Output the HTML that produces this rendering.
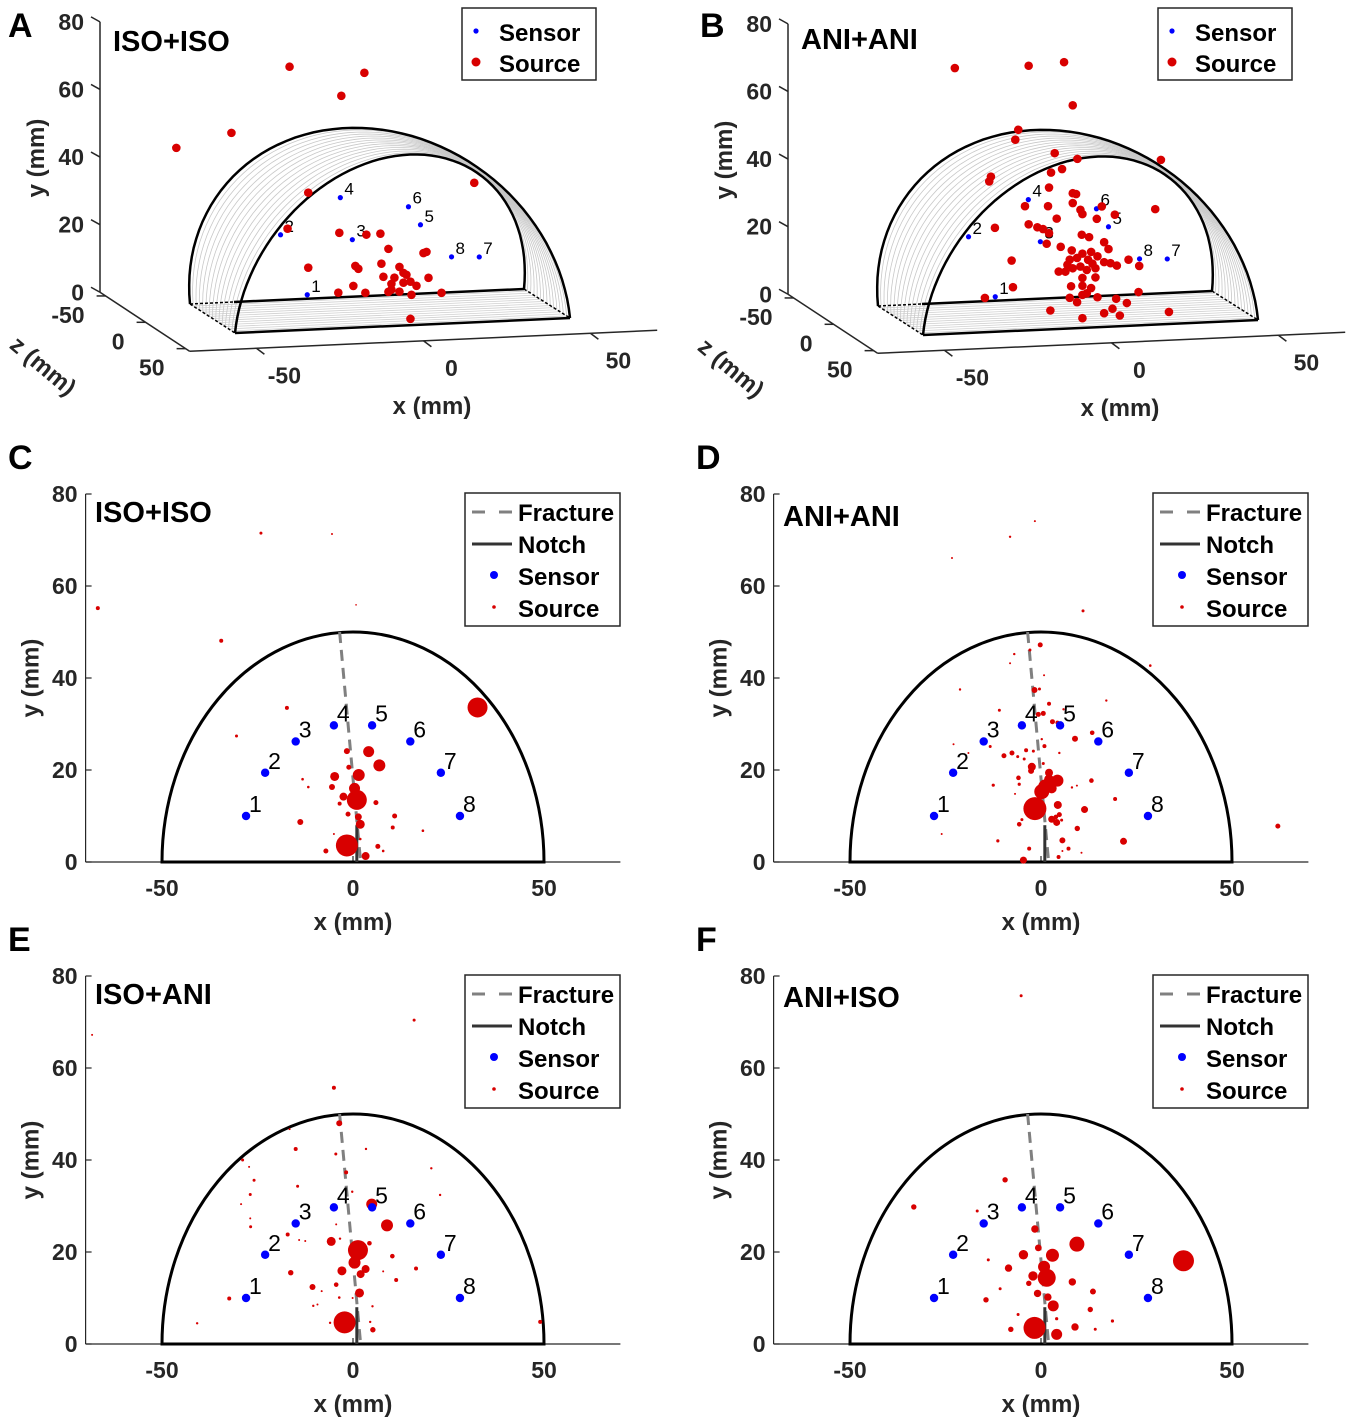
<!DOCTYPE html>
<html><head><meta charset="utf-8">
<style>
html,body{margin:0;padding:0;background:#fff;}
svg{display:block;font-family:"Liberation Sans",Arial,sans-serif;}
</style></head>
<body>
<svg id="chart" width="1350" height="1422" viewBox="0 0 1350 1422" xmlns="http://www.w3.org/2000/svg"></svg>
<script>
// ---------- DATA ----------
const aSrcX=[-26.9,-4.5,-11.4,-44.3,-60.8,28.4,-21.3,-27.5,-12,-3.9,0.3,2.7,14.1,13.2,-21.3,-7.2,-6.3,0.6,6,7.2,8.1,1.2,4.5,14.7,9.3,7.2,3.6,11.1,-7.8,3.6,2.7,6,-12.3,-4.2,9.6,18.6,9.3];
const aSrcY=[73.7,70.9,64.4,54.9,51.2,36.9,36.2,25.8,23.9,23.0,23.1,18.5,17.1,16.8,14.0,13.9,13.0,14.2,13.0,11.2,10.6,10.3,9.9,9.4,8.5,8.3,8.1,7.2,8.0,6.4,5.8,5.7,6.2,5.8,4.6,4.8,-2.5];
const bSrcX=[-33.7,-11.6,-1.0,1.6,-14.7,-15.6,-3.8,-22.9,-23.4,28,3,-4.9,-1.6,-5.5,1.6,2.6,-12.7,-5.8,1.6,3.9,4.5,10.3,14.2,8.8,-3.2,26.3,-21.7,-11.6,-9,-7.3,-5.5,-6.2,4.3,6.5,-2,1.3,11,12.3,4.5,7.1,9.0,0.7,2.9,6.2,7.5,11,12.9,14.8,18.3,21.5,-16.7,-2.6,-0.6,1.6,3.9,5.8,8.4,0,4.5,8.4,1.1,4.5,7.1,5.8,4.5,-16.3,21.3,-24.7,0.7,2.9,9,14.6,17.8,-5.1,11,13.5,15.7,4.5,30.4];
const bSrcY=[74.2,73.9,74.5,61.6,55.1,52.2,47.7,41.6,40.2,44.3,45.7,42.0,42.9,37.6,35.6,35.3,32.4,32.1,32.7,30.6,29.3,31.3,28.7,27.7,28.3,29.8,26.4,27.0,26.0,25.4,24.1,21.0,23.2,22.4,19.9,18.7,20.7,18.6,17.6,18.0,16.6,16.0,16.4,15.7,14.5,14.8,14.4,13.6,15.2,13.2,16.5,12.6,12.5,13.4,13.8,12.7,13.1,14.5,10.4,10.4,8.1,8.1,7.3,5.8,5.4,8.6,5.5,5.8,4.7,3.3,4.5,3.8,2.4,1.2,-0.3,0.9,-1.2,-1.5,-0.8];
const s3X=[-21.6,-29.6,-8.1,-11.7,12.3,8.7,29.9,21.6];
const s3Y=[6.0,24.1,21.7,34.3,25.2,30.7,14.9,15.3];
const sensorLabels=['1','2','3','4','5','6','7','8'];
const xTicks3=[-50,0,50], yTicks3=[0,20,40,60,80], zTicks3=[-50,0,50];
const sensorX=[-28,-23,-15,-5,5,15,23,28];
const sensorY=[10,19.4,26.2,29.7,29.7,26.2,19.4,10];
const xTicks=[-50,0,50], yTicks=[0,20,40,60,80];
const cSrcX=[-34.5,-17.3,-30.5,32.6,-1.6,4.1,6.9,-1.1,-4.8,1.5,-13.2,-11.7,-5.5,0.4,-2.5,1.0,-3.5,6,-1.3,1.4,1.9,10.9,10.4,-13.8,18.3,-5,1.9,-1.6,-7.1,6.5,7.9,3.3,-66.8,-24.1,-5.5,0.8];
const cSrcY=[48.1,33.5,27.4,33.6,24.1,24,21,20.6,18.6,18.9,18,16.3,16.3,16,14.2,13.5,12.7,12.9,10.4,9.8,8.2,10,7.5,8.7,6.8,6.1,5.0,3.6,2.4,3.4,2.4,1.3,55.2,71.5,71.3,55.9];
const cSrcMag=[2,2,1.5,10,3,5.5,6,2.5,4.5,6,1.3,1.3,3,5.5,4,10,2,2.5,2.5,3.5,4.5,2.5,2,3,1.3,1,1.3,11,2.5,2.5,1.3,4,2,1.5,1,0.8];
const dSrcX=[-0.2,-2.9,-7,-8.1,0.8,28.6,-21.2,-1.7,-0.4,17.1,2.1,-10.9,5.9,-0.7,0.6,3,4.3,13.4,8.9,0.2,0.9,-22.9,-13.3,-3.9,-7.6,-2,-6.1,-4.4,4.8,-9.7,-19,0.6,-2.4,-2.6,2.1,4.3,2.1,1.1,0.2,2.8,-1.6,-5.9,-5.7,-12.5,-6.8,8.1,9.4,13.2,19.4,4.4,11.4,4.8,3.9,2.8,4.1,5.4,-5,-5.7,9.5,-26,5.6,21.6,-11.3,-3.1,7.2,5.6,10.6,4.6,-4.6,-23.3,-8.1,-1.6,11,62];
const dSrcY=[47.2,46.1,45.2,43.2,40.6,42.7,37.5,37.4,37.6,35.1,34.4,33,33.2,32.1,32.3,30.5,30.3,28.1,26.8,26.7,25.2,25.6,25.1,24.3,23.7,24.1,22.9,22.4,23.7,23.1,23.7,21.4,20.7,19.8,19.4,17.7,17.9,16.4,15.3,16,11.6,18.3,16.9,16.7,14.8,16.2,16.6,17.7,13.7,12.4,11.4,10.3,9.8,9.3,8.6,9.1,9.2,8.2,7.3,6.1,4.7,4.5,4.6,2.9,2.9,2.4,2,1.1,0.4,66.1,70.7,74.1,54.6,7.8];
const dSrcMag=[2.5,1.5,1.2,1,1,1.3,1.2,3,1.5,1.2,2,1.5,1.2,2.5,2.5,2.5,2,2.3,3,1.2,2,1,1.5,2,2.5,1.5,1.5,1.5,1.2,2.5,1,1.5,4,3,4,6,5,7,7.5,5,11.5,2.3,1.6,1.6,1,1.2,1,2.3,2,4,3.5,2.5,2.3,3.5,3.5,1.5,1.5,2.3,2.7,1,3,3.5,1.6,2,2,1,1,2,3.5,1,1.2,1,1.5,2.5];
const eSrcX=[-3.6,-16.6,-15,-4.5,3.4,-28.9,-27.2,-1.8,-25.9,20.5,-14.5,-26.9,-29.3,-0.2,22.8,4.9,-26.9,-26.8,-4.4,8.9,-17.1,-14.1,-12.5,-5.7,-3.4,4.3,1.3,10.3,0.4,3.3,2,-2.9,7.9,16.5,-16.3,11.3,-10.6,-4.4,-8.2,1.7,-32.4,-3.6,-0.1,5.1,-10.4,-9.3,-2.2,-6,4.5,5.2,-68.3,16,-5,49,-40.8];
const eSrcY=[48,46.7,42.4,41.3,42.4,40,38.5,37.3,35.6,38.2,34.3,32.5,30.4,33.1,32.4,30.4,27.3,25.5,26,25.8,23.8,22.6,22.4,22.3,22.9,21.9,20.4,19.1,17.7,16.3,15.2,15.9,15.8,16.4,15.5,13.9,12.4,12.9,11.5,11.1,9.9,10.1,10,8.2,8.3,8.6,4.7,4.6,4.8,3.1,67.2,70.4,55.7,4.8,4.5];
const eSrcMag=[3,1,2,1.5,1.2,1.5,1,2,1.5,1.2,1.5,1.5,1,1.2,1.2,5.5,1,1.5,1,6,2,1,1,4.5,1.2,2.3,10,2.3,6,4,4,4.5,1,2,2.7,2,3,2.3,1,4.5,2,1.3,1,1.2,1.2,1,11,1.2,1.2,2.7,1,1.5,2,2,1.2];
const fSrcX=[-9.4,-33.3,-16.7,-1.6,9.4,-0.7,-4.6,3,-13.8,37.3,-8.5,0.8,-2.1,1.5,-3.2,8.2,-10.7,13.6,-0.9,1.8,-14.4,3.2,12.9,-6,4.1,18.7,8.9,-1.7,-7.9,14.2,4.1,-5.2];
const fSrcY=[35.7,29.8,28.9,25,21.7,20.9,19.4,19.3,18.3,18.1,16.5,16.8,14.8,14.4,13.2,13.5,12,11.4,11,10.2,9.6,8.3,7.5,6.4,5.5,5,3.7,3.5,3.2,3.2,2.1,75.7];
const fSrcMag=[2.7,2.7,1.5,3.7,7.5,3.4,4.7,6.5,1.5,10.5,3.7,6,4.7,9,2.7,3.7,1.5,3,3.7,3.7,2.7,5.5,2.7,1.5,1.6,1.6,3.7,11,2.7,1.5,5.5,1.5];

// ---------- DRAWING ----------
const NS='http://www.w3.org/2000/svg';
const svg=document.getElementById('chart');
const INK='#262626', RED='#d80000', BLUE='#0000ff';
function mk(tag,attrs,parent){const e=document.createElementNS(NS,tag);for(const k in attrs)e.setAttribute(k,attrs[k]);(parent||svg).appendChild(e);return e;}
function txt(str,attrs,parent){const t=mk('text',attrs,parent);t.textContent=str;return t;}

function legendBox(g,lx,ly,w,h){
  const r=mk('rect',{x:lx,y:ly,width:w,height:h,fill:'#fff',stroke:INK,'stroke-width':1.5},g);
  
  
}

function panel2D(letter,title,ox,oy,titleDy,srcX,srcY,srcMag){
  const sx=x=>ox+x*3.82, sy=y=>oy-y*4.6;
  const g=mk('g',{});
  
  
  const yAx=mk('line',{x1:sx(-70),y1:sy(0),x2:sx(-70),y2:sy(80),stroke:INK,'stroke-width':1.2},g);
  
  
  const xAx=mk('line',{x1:sx(-70),y1:sy(0),x2:sx(70),y2:sy(0),stroke:INK,'stroke-width':1.2},g);
  
  
  yTicks.forEach(v=>{
    const t=mk('line',{x1:sx(-70),y1:sy(v),x2:sx(-70)+6,y2:sy(v),stroke:INK,'stroke-width':1.2},g);
    
    
    const l=txt(String(v),{x:sx(-70)-8,y:sy(v)+8,'text-anchor':'end','font-size':23,'font-weight':'bold',fill:INK},g);
    
    
  });
  xTicks.forEach(v=>{
    const t=mk('line',{x1:sx(v),y1:sy(0),x2:sx(v),y2:sy(0)-6,stroke:INK,'stroke-width':1.2},g);
    
    
    const l=txt(String(v),{x:sx(v),y:sy(0)+34,'text-anchor':'middle','font-size':23,'font-weight':'bold',fill:INK},g);
    
    
  });
  const xl=txt('x (mm)',{x:sx(0),y:sy(0)+68,'text-anchor':'middle','font-size':24,'font-weight':'bold',fill:INK},g);
  
  
  const yl=txt('y (mm)',{x:0,y:0,'text-anchor':'middle','font-size':24,'font-weight':'bold',fill:INK,transform:`translate(${sx(-70)-47},${sy(40)}) rotate(-90)`},g);
  
  
  const semi=mk('path',{d:`M${sx(-50)},${sy(0)} A${50*3.82},${50*4.6} 0 0 1 ${sx(50)},${sy(0)} Z`,fill:'none',stroke:'#000','stroke-width':3},g);
  
  
  const fr=mk('line',{x1:sx(-3.5),y1:sy(50),x2:sx(2),y2:sy(0),stroke:'#808080','stroke-width':3,'stroke-dasharray':'11 7'},g);
  
  
  const no=mk('line',{x1:sx(1),y1:sy(0),x2:sx(1),y2:sy(8),stroke:'#333','stroke-width':3},g);
  
  
  srcX.forEach((x,i)=>{
    const c=mk('circle',{cx:sx(x),cy:sy(srcY[i]),r:srcMag[i],fill:RED},g);
    
    
  });
  sensorX.forEach((x,i)=>{
    const c=mk('circle',{cx:sx(x),cy:sy(sensorY[i]),r:4.2,fill:BLUE},g);
    
    
    const l=txt(sensorLabels[i],{x:sx(x)+3,y:sy(sensorY[i])-4,'font-size':23,fill:'#000'},g);
    
    
  });
  const tt=txt(title,{x:ox-258,y:sy(80)+titleDy,'font-size':29,'font-weight':'bold',fill:'#000'},g);
  
  
  const lt=txt(letter,{x:ox-345,y:sy(80)-25,'font-size':34,'font-weight':'bold',fill:'#000'},g);
  
  
  const lx=ox+112, ly=sy(80)-1;
  legendBox(g,lx,ly,155,133);
  const l1=mk('line',{x1:lx+7,y1:ly+19,x2:lx+47,y2:ly+19,stroke:'#808080','stroke-width':3,'stroke-dasharray':'13 14'},g);
  
  
  const l2=mk('line',{x1:lx+7,y1:ly+51,x2:lx+47,y2:ly+51,stroke:'#333','stroke-width':3},g);
  
  
  const l3=mk('circle',{cx:lx+29,cy:ly+82,r:4,fill:BLUE},g);
  
  
  const l4=mk('circle',{cx:lx+29,cy:ly+114,r:1.8,fill:RED},g);
  
  
  ['Fracture','Notch','Sensor','Source'].forEach((s,i)=>{
    const t=txt(s,{x:lx+53,y:ly+28+i*32,'font-size':24,'font-weight':'bold',fill:'#000'},g);
    
    
  });
}

function panel3D(letter,title,dx,dy,titleX,titleY,legX,srcX,srcY){
  const P=(x,y,z)=>[379.4+dx+3.34*x+0.8*z, 311.8+dy-0.15*x-3.38*y+0.527*z];
  const g=mk('g',{});
  
  
  const ZMIN=-57, ZMAX=55, XMIN=-70, XMAX=70;
  function ln(a,b,attrs){return mk('line',Object.assign({x1:a[0],y1:a[1],x2:b[0],y2:b[1]},attrs),g);}
  const ya=ln(P(XMIN,0,ZMIN),P(XMIN,80,ZMIN),{stroke:INK,'stroke-width':1.5});
  
  
  const za=ln(P(XMIN,0,ZMIN),P(XMIN,0,ZMAX),{stroke:INK,'stroke-width':1.5});
  
  
  const xa=ln(P(XMIN,0,ZMAX),P(XMAX,0,ZMAX),{stroke:INK,'stroke-width':1.5});
  
  
  yTicks3.forEach(v=>{
    const p=P(XMIN,v,ZMIN);
    const t=ln(p,[p[0]-9,p[1]-5],{stroke:INK,'stroke-width':1.5});
    
    
    const l=txt(String(v),{x:p[0]-16,y:p[1]+8,'text-anchor':'end','font-size':23,'font-weight':'bold',fill:INK},g);
    
    
  });
  zTicks3.forEach(v=>{
    const p=P(XMIN,0,v);
    const t=ln(p,[p[0]-9,p[1]],{stroke:INK,'stroke-width':1.5});
    
    
    const l=txt(String(v),{x:p[0]-21,y:p[1]+27,'text-anchor':'end','font-size':23,'font-weight':'bold',fill:INK},g);
    
    
  });
  xTicks3.forEach(v=>{
    const p=P(v,0,ZMAX);
    const t=ln(p,[p[0]+8,p[1]+6],{stroke:INK,'stroke-width':1.5});
    
    
    const l=txt(String(v),{x:p[0]+28,y:p[1]+35,'text-anchor':'middle','font-size':23,'font-weight':'bold',fill:INK},g);
    
    
  });
  const xl=txt('x (mm)',{x:432+dx,y:414+dy,'text-anchor':'middle','font-size':24,'font-weight':'bold',fill:INK},g);
  
  
  const yl=txt('y (mm)',{x:0,y:0,'text-anchor':'middle','font-size':24,'font-weight':'bold',fill:INK,transform:`translate(${44+dx},${158+dy}) rotate(-90)`},g);
  
  
  const zl=txt('z (mm)',{x:0,y:0,'text-anchor':'middle','font-size':24,'font-weight':'bold',fill:INK,transform:`translate(${38+dx},${372+dy}) rotate(40)`},g);
  
  
  const lerp=(a,b,t)=>[a[0]+(b[0]-a[0])*t,a[1]+(b[1]-a[1])*t];
  const BL=[190+dx,304+dy],BR=[524+dx,289+dy],FL=[235+dx,333+dy],FR=[570+dx,318+dy];
  const TO=[362+dx,128+dy],TI=[395+dx,156+dy];
  function arch(L,R,T){const M=[(L[0]+R[0])/2,(L[1]+R[1])/2],H=[(R[0]-L[0])/2,(R[1]-L[1])/2],V=[T[0]-M[0],T[1]-M[1]];let d='';for(let k=0;k<=60;k++){const th=Math.PI*k/60;const px=M[0]-Math.cos(th)*H[0]+Math.sin(th)*V[0],py=M[1]-Math.cos(th)*H[1]+Math.sin(th)*V[1];d+=(k?'L':'M')+px.toFixed(1)+','+py.toFixed(1);}return d;}
  for(let k=1;k<14;k++){
    const t=k/14;
    const a=mk('path',{d:arch(lerp(BL,FL,t),lerp(FR,BR,t),lerp(TO,TI,t)),fill:'none',stroke:'#c8c8c8','stroke-width':0.8},g);
    
    
    const b=ln(lerp(BL,FL,t),lerp(BR,FR,t),{stroke:'#d0d0d0','stroke-width':0.8});
    
    
  }
  const ao=mk('path',{d:arch(BL,FR,TO),fill:'none',stroke:'#000','stroke-width':2.5},g);
  
  
  const ai=mk('path',{d:arch(FL,BR,TI),fill:'none',stroke:'#000','stroke-width':2.5},g);
  
  
  const be=ln([234+dx,302+dy],BR,{stroke:'#000','stroke-width':2.5});
  
  
  const bd=ln(BL,[234+dx,302+dy],{stroke:'#000','stroke-width':1.5,'stroke-dasharray':'3 2'});
  
  
  const fe=ln(FL,FR,{stroke:'#000','stroke-width':2.5});
  
  
  const s1=ln(BL,FL,{stroke:'#000','stroke-width':1.5,'stroke-dasharray':'3 2'});
  
  
  const s2=ln(BR,FR,{stroke:'#000','stroke-width':1.5,'stroke-dasharray':'3 2'});
  
  
  s3X.forEach((x,i)=>{
    const p=P(x,s3Y[i],0);
    const c=mk('circle',{cx:p[0],cy:p[1],r:2.6,fill:BLUE},g);
    
    
    const l=txt(sensorLabels[i],{x:p[0]+4,y:p[1]-3,'font-size':17,fill:'#000'},g);
    
    
  });
  srcX.forEach((x,i)=>{
    const p=P(x,srcY[i],0);
    const c=mk('circle',{cx:p[0],cy:p[1],r:4.3,fill:RED},g);
    
    
  });
  const tt=txt(title,{x:titleX,y:titleY,'font-size':29,'font-weight':'bold',fill:'#000'},g);
  
  
  const lt=txt(letter,{x:8+dx-(letter==='B'?-4:0),y:37,'font-size':34,'font-weight':'bold',fill:'#000'},g);
  
  
  legendBox(g,legX,8,134,72);
  const c1=mk('circle',{cx:legX+14,cy:31,r:2.6,fill:BLUE},g);
  
  
  const c2=mk('circle',{cx:legX+14,cy:62,r:4.5,fill:RED},g);
  
  
  ['Sensor','Source'].forEach((s,i)=>{
    const t=txt(s,{x:legX+37,y:41+i*31,'font-size':24,'font-weight':'bold',fill:'#000'},g);
    
    
  });
}

panel3D('A','ISO+ISO',0,0,113,51,462,aSrcX,aSrcY);
panel3D('B','ANI+ANI',688,2,801,49,1158,bSrcX,bSrcY);
panel2D('C','ISO+ISO',353,862,28,cSrcX,cSrcY,cSrcMag);
panel2D('D','ANI+ANI',1041,862,32,dSrcX,dSrcY,dSrcMag);
panel2D('E','ISO+ANI',353,1344,28,eSrcX,eSrcY,eSrcMag);
panel2D('F','ANI+ISO',1041,1344,31,fSrcX,fSrcY,fSrcMag);
</script>
</body></html>
